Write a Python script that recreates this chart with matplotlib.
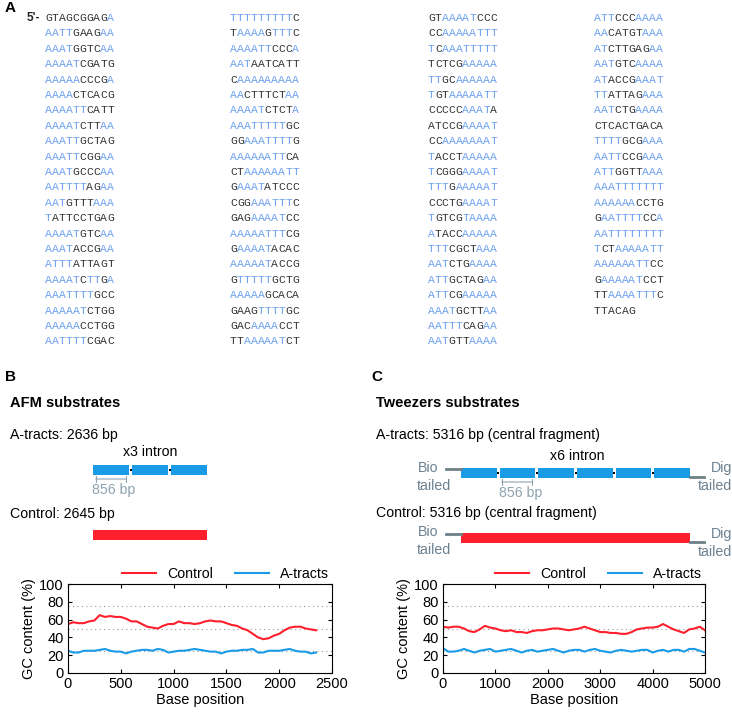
import matplotlib
matplotlib.use("Agg")
import matplotlib.pyplot as plt
from matplotlib.patches import Rectangle

# sequence rows, upper case = A-tract (blue), lower case = other bases (dark)
col1 = ["gtagcggagA", "AATTgaagAA", "AAATggtcAA", "AAAATcgatg", "AAAAAcccgA",
        "AAAActcacg", "AAAATTcatt", "AAAATcttAA", "AAATTgctag", "AAATTcggAA",
        "AAATgcccAA", "AATTTTagAA", "AATgtttAAA", "Tattcctgag", "AAAATgtcAA",
        "AAATaccgAA", "ATTTattagt", "AAAATcTTgA", "AAATTTTgcc", "AAAAATctgg",
        "AAAAAcctgg", "AATTTTcgac"]
col2 = ["TTTTTTTTTc", "tAAAAgTTTc", "AAAATTcccA", "AATaatcatt", "cAAAAAAAAA",
        "AActttctAA", "AAAATctctA", "AAATTTTTgc", "ggAAATTTTg", "AAAAAATTca",
        "ctAAAAAATT", "gAAATatccc", "cggAAATTTc", "gagAAAATcc", "AAAAATTTcg",
        "gAAAATacac", "AAAAATaccg", "gTTTTTgctg", "AAAAAgcaca", "gaagTTTTgc",
        "gacAAAAcct", "ttAAAAATct"]
col3 = ["gtAAAATccc", "ccAAAAATTT", "TcAAATTTTT", "tctcgAAAAA", "TTgcAAAAAA",
        "TgtAAAAATT", "cccccAAATa", "atccgAAAAT", "ccAAAAAAAT", "TacctAAAAA",
        "TcgggAAAAT", "TTTgAAAAAT", "ccctgAAAAT", "TgtcgTAAAA", "AtaccAAAAA",
        "TTTcgctAAA", "AATctgAAAA", "ATTgctagAA", "ATTcgAAAAA", "AAATgcttAA",
        "AATTTcagAA", "AATgttAAAA"]
col4 = ["ATTcccAAAA", "AAcatgtAAA", "ATcttgagAA", "AATgtcAAAA", "ATaccgAAAT",
        "TTattagAAA", "AATctgAAAA", "ctcactgaca", "TTTTgcgAAA", "AATTccgAAA",
        "ATTggttAAA", "AAATTTTTTT", "AAAAAAcctg", "gAATTTTccA", "AATTTTTTTT",
        "TctAAAAATT", "AAAAAATTcc", "gAAAAATcct", "ttAAAATTTc", "ttacag"]
columns = [col1, col2, col3, col4]
col_x = [45, 230, 428, 594]

# GC content, AFM substrates (panel B)
pos_b = list(range(0, 2351, 50))
gc_ctrl_b = [55, 57, 56, 56, 58, 59, 65, 63, 64, 63, 63, 61, 58, 58, 55, 52, 51, 50,
             53, 55, 55, 58, 56, 56, 55, 56, 58, 59, 58, 58, 56, 54, 53, 50, 48, 44,
             40, 38, 39, 42, 44, 48, 51, 52, 52, 50, 49, 48]
gc_atr_b = [25, 23, 23, 25, 25, 25, 26, 27, 25, 24, 24, 22, 24, 25, 26, 26, 25, 27,
            26, 23, 24, 25, 25, 26, 27, 26, 25, 24, 24, 22, 24, 25, 25, 26, 26, 27,
            23, 23, 25, 25, 25, 26, 27, 25, 24, 24, 22, 23]

# GC content, tweezers substrates (panel C)
pos_c = list(range(0, 5001, 100))
gc_ctrl_c = [52, 51, 52, 52, 50, 47, 46, 49, 53, 51, 50, 48, 47, 48, 46, 46, 45, 47,
             48, 48, 49, 50, 50, 49, 48, 49, 50, 52, 50, 48, 46, 46, 45, 45, 44, 44,
             46, 49, 50, 51, 51, 52, 55, 52, 49, 47, 45, 49, 50, 52, 48]
gc_atr_c = [28, 24, 24, 25, 27, 25, 23, 25, 26, 27, 24, 25, 26, 27, 25, 23, 25, 26,
            24, 25, 26, 27, 25, 23, 25, 26, 26, 24, 26, 27, 25, 24, 23, 25, 26, 25,
            24, 25, 26, 26, 23, 25, 26, 24, 26, 26, 24, 27, 27, 25, 23]

BLUE_TXT = "#6a9ff0"
DARK_TXT = "#333333"
RED = "#ff1f2d"
BLUE = "#1a9be6"
GREY = "#8ea3b0"
TAIL = "#6e8088"
FS = 10.2

W, H = 732, 715
fig = plt.figure(figsize=(W / 100, H / 100), dpi=100)
plt.rcParams["font.family"] = ["Liberation Sans", "DejaVu Sans"]


def fx(x):
    return x / W


def fy(y):
    return 1 - y / H


# overlay in pixel coordinates for the text / schematic
ov = fig.add_axes([0, 0, 1, 1])
ov.set_xlim(0, W)
ov.set_ylim(H, 0)
ov.axis("off")

# ---- panel A ----
ov.text(5, 8, "A", fontsize=11, fontweight="bold", va="center")
ov.text(27, 18, "5'-", fontsize=8.5, fontweight="bold", va="center", color="#222222")
cw = 6.9
row_h = 15.4
for ci, col in enumerate(columns):
    for ri, row in enumerate(col):
        for k, ch in enumerate(row):
            c = BLUE_TXT if ch.isupper() else DARK_TXT
            ov.text(col_x[ci] + k * cw, 18 + ri * row_h, ch.upper(), fontsize=8.2,
                    family="Liberation Mono", color=c, va="center", ha="left")

# ---- panel B schematic ----
ov.text(5, 377, "B", fontsize=11, fontweight="bold", va="center")
ov.text(10, 403, "AFM substrates", fontsize=10.5, fontweight="bold", va="center")
ov.text(10, 435, "A-tracts: 2636 bp", fontsize=FS, va="center")
ov.text(150, 452, "x3 intron", fontsize=FS, va="center", ha="center")


def repeats(x0, x1, y, h, n):
    seg = (x1 - x0 - (n - 1) * 3) / n
    for i in range(n):
        xs = x0 + i * (seg + 3)
        ov.add_patch(Rectangle((xs, y), seg, h, color=BLUE, lw=0))
        if i > 0:
            ov.add_patch(Rectangle((xs - 2.5, y + h / 2 - 1), 2, 2, color="black", lw=0))
    return seg


seg = repeats(93, 207, 465, 10, 3)
ov.annotate("", xy=(93, 479), xytext=(93 + seg, 479),
            arrowprops=dict(arrowstyle="|-|", color=GREY, lw=0.8,
                            mutation_scale=2))
ov.text(92, 490, "856 bp", fontsize=FS, color=GREY, va="center")
ov.text(10, 514, "Control: 2645 bp", fontsize=FS, va="center")
ov.add_patch(Rectangle((93, 530), 114, 10, color=RED, lw=0))

# ---- panel C schematic ----
ov.text(371, 377, "C", fontsize=11, fontweight="bold", va="center")
ov.text(376, 403, "Tweezers substrates", fontsize=10.5, fontweight="bold", va="center")
ov.text(376, 435, "A-tracts: 5316 bp (central fragment)", fontsize=FS, va="center")
ov.text(577, 456, "x6 intron", fontsize=FS, va="center", ha="center")
seg = repeats(461, 690, 468, 10, 6)
ov.plot([446, 461], [469, 469], color=TAIL, lw=2)
ov.plot([690, 704], [477, 477], color=TAIL, lw=2)
ov.annotate("", xy=(499, 482), xytext=(499 + seg, 482),
            arrowprops=dict(arrowstyle="|-|", color=GREY, lw=0.8,
                            mutation_scale=2))
ov.text(499, 493, "856 bp", fontsize=FS, color=GREY, va="center")
ov.text(376, 513, "Control: 5316 bp (central fragment)", fontsize=FS, va="center")
ov.add_patch(Rectangle((461, 533), 229, 10, color=RED, lw=0))
ov.plot([446, 461], [534, 534], color=TAIL, lw=2)
ov.plot([690, 704], [542, 542], color=TAIL, lw=2)
for yb, yt in [(468, 486), (532, 550)]:
    ov.text(418, yb, "Bio", fontsize=FS, color="#6b8090", va="center")
    ov.text(417, yt, "tailed", fontsize=FS, color="#6b8090", va="center")
for yb, yt in [(468, 486), (534, 552)]:
    ov.text(732, yb, "Dig", fontsize=FS, color="#6b8090", va="center", ha="right")
    ov.text(732, yt, "tailed", fontsize=FS, color="#6b8090", va="center", ha="right")


# ---- GC content plots ----
def gc_axes(left, width, pos, ctrl, atr, xmax, xstep):
    ax = fig.add_axes([fx(left), fy(673), width / W, 89 / H])
    for g in (25, 50, 75):
        ax.axhline(g, color="#999999", ls=(0, (1, 3)), lw=0.8, zorder=0)
    ax.plot(pos, ctrl, color=RED, lw=1.5, label="Control")
    ax.plot(pos, atr, color=BLUE, lw=1.5, label="A-tracts")
    ax.set_xlim(0, xmax)
    ax.set_ylim(0, 100)
    ax.set_xticks(range(0, xmax + 1, xstep))
    ax.set_yticks(range(0, 101, 20))
    ax.tick_params(direction="in", top=True, right=True, labelsize=10.5, length=3,
                   pad=3)
    ax.set_xlabel("Base position", fontsize=10.5, labelpad=1)
    ax.set_ylabel("GC content (%)", fontsize=10.5, labelpad=2)
    ax.legend(loc="lower right", bbox_to_anchor=(1.01, 0.97), ncol=2, frameon=False,
              fontsize=10.2, handlelength=2.4, columnspacing=1.5, borderaxespad=0,
              handletextpad=0.8)
    return ax


gc_axes(68, 264, pos_b, gc_ctrl_b, gc_atr_b, 2500, 500)
gc_axes(443, 262, pos_c, gc_ctrl_c, gc_atr_c, 5000, 1000)

fig.savefig("out.png", dpi=100)
